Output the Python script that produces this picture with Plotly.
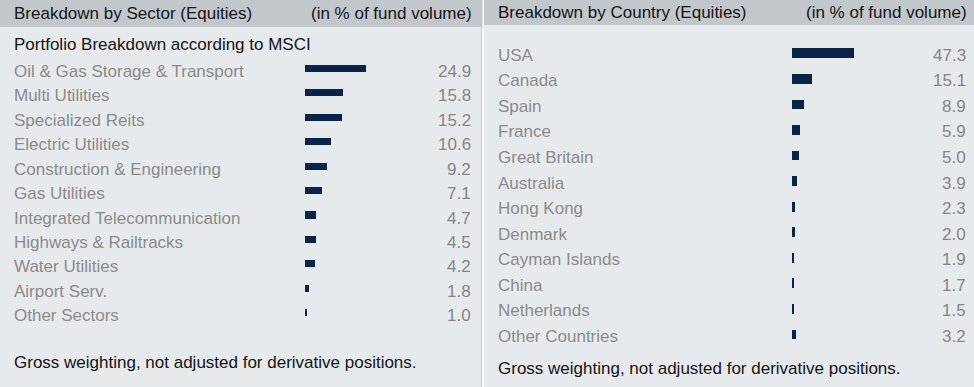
import plotly.graph_objects as go

# ---------------- data ----------------
sector_labels = ["Oil & Gas Storage & Transport", "Multi Utilities", "Specialized Reits",
                 "Electric Utilities", "Construction & Engineering", "Gas Utilities",
                 "Integrated Telecommunication", "Highways & Railtracks", "Water Utilities",
                 "Airport Serv.", "Other Sectors"]
sector_values = [24.9, 15.8, 15.2, 10.6, 9.2, 7.1, 4.7, 4.5, 4.2, 1.8, 1.0]

country_labels = ["USA", "Canada", "Spain", "France", "Great Britain", "Australia",
                  "Hong Kong", "Denmark", "Cayman Islands", "China", "Netherlands",
                  "Other Countries"]
country_values = [47.3, 15.1, 8.9, 5.9, 5.0, 3.9, 2.3, 2.0, 1.9, 1.7, 1.5, 3.2]

left_title = "Breakdown by Sector (Equities)"
right_title = "Breakdown by Country (Equities)"
unit_label = "(in % of fund volume)"
left_subtitle = "Portfolio Breakdown according to MSCI"
footnote = "Gross weighting, not adjusted for derivative positions."

# ---------------- layout helpers ----------------
W, H = 974, 387
def px(x):
    return x / W
def py(y):
    return 1 - y / H

FONT = "Liberation Sans, Arial, sans-serif"
FS = 17
BAR = "#0b2346"
LBL = "#8a8a8a"
VAL = "#858585"
TXT = "#141414"
HEAD_BG = "#c2c7cc"
BODY_BG = "#e7eaed"

fig = go.Figure()

fig.add_trace(go.Bar(x=sector_values, y=sector_labels, orientation="h",
                     marker=dict(color=BAR, line=dict(width=0)), width=0.29,
                     xaxis="x", yaxis="y", hoverinfo="x+y"))
fig.add_trace(go.Bar(x=country_values, y=country_labels, orientation="h",
                     marker=dict(color=BAR, line=dict(width=0)), width=0.38,
                     xaxis="x2", yaxis="y2", hoverinfo="x+y"))

# row geometry (pixel centres of first row and row pitch)
L0, LP = 68.3, 24.45
R0, RP = 53.3, 25.56
def yr(first, pitch):
    top = -first / pitch
    return [top + H / pitch, top]

ax = dict(showgrid=False, zeroline=False, showticklabels=False, showline=False,
          ticks="", fixedrange=True)
fig.update_layout(
    width=W, height=H,
    margin=dict(l=0, r=0, t=0, b=0),
    paper_bgcolor="white", plot_bgcolor="rgba(0,0,0,0)",
    showlegend=False, bargap=0,
    font=dict(family=FONT, size=FS, color=TXT),
    xaxis=dict(domain=[px(305), px(425)], range=[0, 120 / 2.43], anchor="y", **ax),
    yaxis=dict(domain=[0, 1], range=yr(L0, LP), anchor="x", type="category",
               categoryorder="array", categoryarray=sector_labels, **ax),
    xaxis2=dict(domain=[px(792), px(912)], range=[0, 120 / 1.31], anchor="y2", **ax),
    yaxis2=dict(domain=[0, 1], range=yr(R0, RP), anchor="x2", type="category",
                categoryorder="array", categoryarray=country_labels, **ax),
)

shapes = [
    # left panel
    dict(type="rect", xref="paper", yref="paper", x0=0, x1=px(482), y0=py(387), y1=py(27),
         fillcolor=BODY_BG, line=dict(width=0), layer="below"),
    dict(type="rect", xref="paper", yref="paper", x0=0, x1=px(482.5), y0=py(27), y1=1,
         fillcolor=HEAD_BG, line=dict(width=0), layer="below"),
    dict(type="rect", xref="paper", yref="paper", x0=px(480.8), x1=px(482.3), y0=0, y1=py(27),
         fillcolor="#d0d4d8", line=dict(width=0), layer="below"),
    # right panel
    dict(type="rect", xref="paper", yref="paper", x0=px(484), x1=1, y0=0, y1=py(25),
         fillcolor=BODY_BG, line=dict(width=0), layer="below"),
    dict(type="rect", xref="paper", yref="paper", x0=px(484), x1=1, y0=py(25), y1=1,
         fillcolor=HEAD_BG, line=dict(width=0), layer="below"),
]
fig.update_layout(shapes=shapes)

ann = []
def text(x, y, s, anchor="left", color=TXT, ysh=0):
    ann.append(dict(x=px(x), y=py(y), xref="paper", yref="paper", text=s, showarrow=False,
                    xanchor=anchor, yanchor="middle", yshift=ysh,
                    font=dict(family=FONT, size=FS, color=color)))

text(12, 14, left_title)
text(474, 14, unit_label, "right")
text(12, 44, left_subtitle)
text(12, 362, footnote)
text(496, 12.5, right_title)
text(969, 12.5, unit_label, "right")
text(496, 368, footnote)

for lab, v in zip(sector_labels, sector_values):
    ann.append(dict(x=px(12), y=lab, xref="paper", yref="y", text=lab, showarrow=False,
                    xanchor="left", yanchor="middle", yshift=-3,
                    font=dict(family=FONT, size=FS, color=LBL)))
    ann.append(dict(x=px(473), y=lab, xref="paper", yref="y", text=f"{v:.1f}", showarrow=False,
                    xanchor="right", yanchor="middle", yshift=-3,
                    font=dict(family=FONT, size=FS, color=VAL)))
for lab, v in zip(country_labels, country_values):
    ann.append(dict(x=px(496), y=lab, xref="paper", yref="y2", text=lab, showarrow=False,
                    xanchor="left", yanchor="middle", yshift=-2,
                    font=dict(family=FONT, size=FS, color=LBL)))
    ann.append(dict(x=px(968), y=lab, xref="paper", yref="y2", text=f"{v:.1f}", showarrow=False,
                    xanchor="right", yanchor="middle", yshift=-2,
                    font=dict(family=FONT, size=FS, color=VAL)))
fig.update_layout(annotations=ann)

fig.write_html("out.html", config={"displayModeBar": False})

# remove the browser's default page margin so the figure sits at (0, 0)
with open("out.html", encoding="utf-8") as f:
    html = f.read()
html = html.replace("<head>", "<head><style>html,body{margin:0;padding:0;overflow:hidden;}</style>", 1)
with open("out.html", "w", encoding="utf-8") as f:
    f.write(html)
